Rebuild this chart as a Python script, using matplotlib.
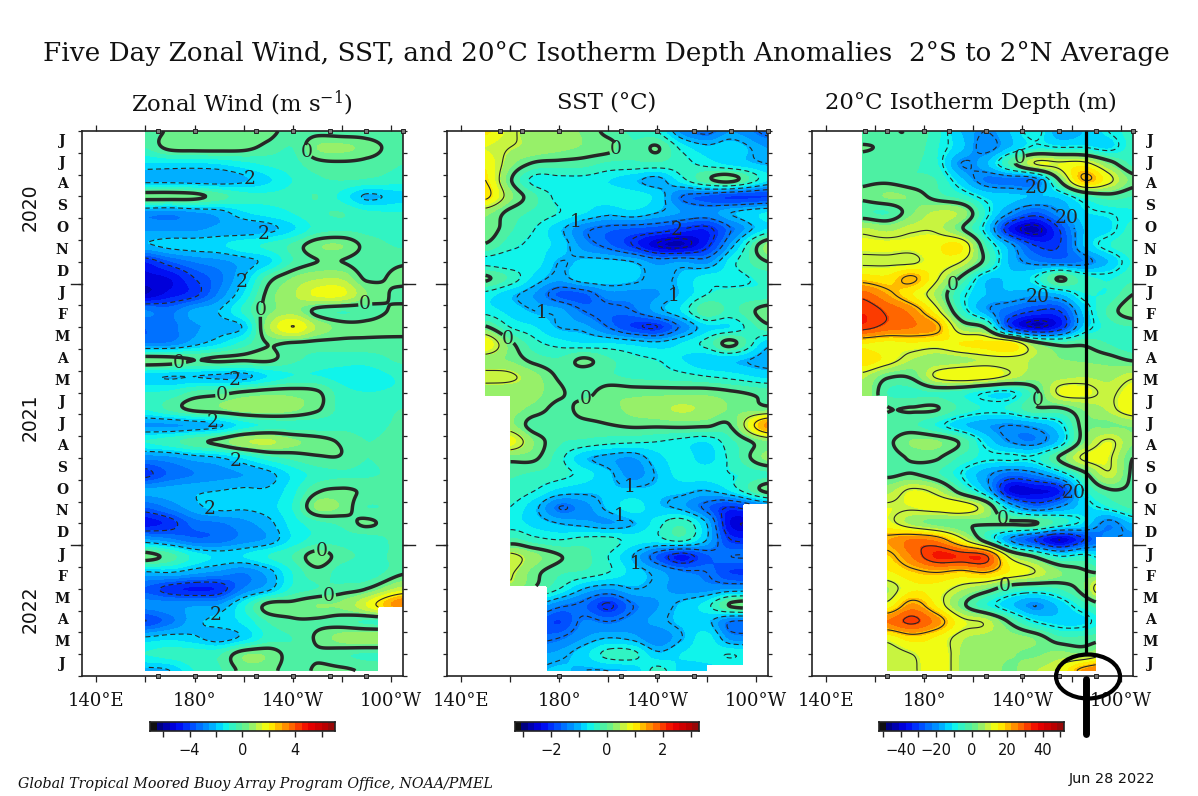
import numpy as np
import matplotlib
matplotlib.use("Agg")
import matplotlib.pyplot as plt
from matplotlib.colors import LinearSegmentedColormap, BoundaryNorm, ListedColormap
from matplotlib.patches import Ellipse

W, H = 1198, 796
plt.rcParams['font.family'] = ['DejaVu Serif']
plt.rcParams['mathtext.fontset'] = 'dejavuserif'

MONTH_LETTERS = list("JJASONDJFMAMJJASONDJFMAMJ")
YEARS = ["2020", "2021", "2022"]
ROW_MONTHS = [0.75 * i for i in range(34)]

WIND_LONS = [160, 170, 180, 190, 200, 210, 220, 230, 240, 250, 265]
WIND = [
[-0.3,0.1,0.3,0.3,0.3,0.2,-0.3,-0.2,-0.3,-0.3,-0.5],
[-0.5,0.2,0.3,0.3,0.2,-0.2,-0.5,0.5,0.6,0.3,-0.4],
[-1.6,-1.6,-1.6,-1.5,-1.2,-0.9,-0.7,-0.2,-0.1,-0.2,-0.5],
[-2.3,-2.3,-2.4,-2.4,-2.1,-1.6,-1.0,-0.6,-0.5,-0.6,-0.8],
[0.3,0.3,0.2,-0.3,-0.8,-0.9,-0.8,-0.5,-1.2,-2.1,-1.7],
[-2.8,-2.9,-2.6,-2.3,-1.6,-1.3,-1.0,-0.6,-0.5,-0.9,-1.0],
[-2.6,-2.6,-2.6,-2.4,-2.4,-2.2,-1.6,-0.8,-0.6,-0.7,-0.8],
[-2.1,-1.8,-1.7,-1.6,-1.2,-0.9,-0.4,0.4,0.5,-0.2,-0.6],
[-4.5,-3.6,-3.0,-2.7,-2.3,-1.7,-0.5,0.0,0.0,-0.3,-0.1],
[-5.2,-5.0,-4.0,-3.2,-2.0,-0.3,0.5,0.9,0.9,-0.1,0.2],
[-5.5,-4.8,-4.2,-2.9,-1.5,0.2,0.9,1.6,1.6,0.5,-0.2],
[-3.0,-3.2,-2.4,-2.0,-0.9,0.3,0.7,-0.2,-0.5,-0.3,0.2],
[-3.5,-3.2,-2.6,-2.3,-1.9,0.8,2.0,0.9,0.3,0.2,0.4],
[-3.0,-2.9,-2.2,-1.6,-0.8,0.02,-0.1,-0.2,-0.2,-0.2,-0.3],
[0.4,0.3,0.0,0.1,0.05,0.1,-0.4,-0.7,-0.8,-0.8,-0.4],
[-1.9,-2.0,-2.0,-2.1,-2.2,-1.5,-1.0,-1.0,-1.2,-1.3,-0.9],
[-1.0,-0.9,-0.4,-0.2,0.1,0.3,0.3,0.1,-0.8,-1.0,-0.9],
[-1.0,-0.4,0.2,0.4,0.7,0.8,0.6,0.1,-0.7,-0.8,-0.5],
[-2.6,-2.6,-2.4,-2.1,-1.3,-0.9,-0.8,-0.8,-0.7,-0.7,-0.4],
[-1.0,-0.7,-0.2,0.2,0.9,1.1,0.6,0.3,-0.1,-0.5,-0.3],
[-2.9,-2.7,-2.3,-2.05,-1.5,-0.8,-0.4,-0.1,-0.05,-0.5,-0.2],
[-4.2,-3.4,-3.0,-2.7,-2.5,-2.2,-1.4,-0.8,-0.6,-0.6,-0.3],
[-2.4,-2.3,-2.1,-2.0,-1.9,-1.9,-1.2,-0.1,0.1,-0.1,-0.2],
[-3.5,-2.9,-2.2,-1.8,-1.9,-1.7,-1.0,0.6,0.4,-0.5,-0.3],
[-4.8,-4.3,-3.3,-3.1,-2.7,-2.2,-1.3,-0.7,-0.4,0.1,-0.5],
[-2.5,-2.9,-3.4,-3.3,-2.8,-2.4,-1.4,-0.8,-0.7,-0.8,-0.3],
[0.3,-0.3,-1.2,-1.6,-1.5,-1.0,-0.5,0.3,-0.3,-0.6,-0.4],
[-2.1,-2.0,-2.4,-2.7,-3.0,-2.3,-1.0,-0.2,-0.8,-0.9,-0.1],
[-3.6,-4.3,-4.6,-4.4,-3.0,-2.2,-0.9,-0.5,-0.3,0.0,1.2],
[-2.8,-2.7,-2.6,-2.5,-1.2,0.2,0.2,0.5,0.6,1.5,3.5],
[-4.0,-3.2,-2.2,-1.8,-1.4,-0.5,-0.1,-0.1,-0.3,-0.6,-0.6],
[-1.9,-1.7,-1.9,-2.3,-1.8,-0.8,-0.5,0.1,0.7,0.9,0.9],
[-1.0,-0.8,-0.7,-0.6,0.4,0.4,-0.3,-0.1,-0.4,-0.6,-0.6],
[-2.2,-2.0,-1.0,-0.6,0.2,0.2,-0.3,0.1,0.1,-0.1,-0.3],
]

SST_LONS = [150, 160, 170, 180, 190, 200, 210, 220, 230, 240, 250, 265]
SST = [
[1.0,0.6,0.3,0.3,0.2,-0.1,-0.3,-0.5,-1.3,-1.6,-1.2,-1.6],
[0.7,0.5,0.4,0.3,0.2,0.1,-0.2,0.02,-0.6,-0.9,-0.8,-1.2],
[0.9,0.3,-0.05,-0.1,-0.15,-0.3,-0.3,-0.3,-0.4,-0.6,-0.8,-1.0],
[1.0,0.05,-0.6,-0.6,-0.6,-0.7,-0.9,-1.1,-0.6,-0.1,0.1,-0.7],
[1.1,0.3,-0.2,-0.6,-0.7,-0.6,-0.6,-0.8,-1.5,-1.7,-1.9,-1.9],
[0.3,-0.1,-0.3,-0.5,-0.7,-0.9,-0.8,-1.0,-1.2,-1.3,-1.0,-0.7],
[0.2,-0.2,-0.5,-0.9,-1.4,-1.6,-1.7,-1.8,-2.0,-2.1,-1.5,-0.7],
[-0.05,-0.4,-0.6,-0.8,-1.3,-1.6,-2.0,-2.5,-2.6,-2.1,-1.1,0.3],
[-0.6,-0.7,-0.6,-1.0,-0.9,-0.9,-1.0,-1.3,-1.2,-1.3,-0.6,0.0],
[0.05,-0.3,-0.8,-1.1,-0.8,-0.8,-0.9,-1.1,-0.9,-0.6,-0.6,-0.4],
[-0.6,-0.9,-1.2,-1.7,-1.7,-1.3,-1.3,-1.2,-0.9,-0.5,-0.4,-0.4],
[-0.6,-0.8,-1.0,-1.1,-1.5,-1.6,-1.5,-1.1,-0.7,-0.05,-0.3,0.15],
[0.05,-0.5,-0.7,-1.0,-1.1,-1.5,-1.9,-2.0,-1.4,-0.8,-0.7,-0.1],
[0.9,0.1,-0.4,-0.6,-0.7,-0.7,-0.8,-0.9,-0.7,-0.4,0.08,-0.9],
[0.3,0.2,-0.1,-0.2,0.05,-0.2,-0.4,-0.5,-0.7,-0.9,-0.9,-1.1],
[0.6,0.55,0.3,-0.05,-0.2,-0.2,-0.3,-0.35,-0.4,-0.5,-0.6,-0.8],
[0.3,0.3,0.3,0.05,-0.1,0.15,0.15,0.15,0.15,0.15,0.05,-0.1],
[0.3,0.3,0.15,-0.1,0.1,0.15,0.3,0.4,0.5,0.4,0.2,0.1],
[0.3,0.3,-0.15,-0.15,-0.1,-0.02,0.05,0.05,0.08,0.05,0.03,1.5],
[0.8,0.8,0.2,-0.2,-0.3,-0.4,-0.45,-0.5,-0.6,-0.7,-0.3,0.2],
[0.1,0.1,0.05,-0.4,-0.9,-1.1,-1.2,-0.8,-0.6,-0.8,-0.4,0.3],
[-0.2,-0.2,-0.3,-0.4,-0.6,-0.9,-1.3,-0.95,-0.6,-0.6,-0.5,-0.3],
[-0.3,-0.3,-0.5,-0.8,-0.9,-0.9,-0.9,-0.9,-0.9,-1.0,-0.7,0.1],
[-0.5,-0.5,-0.9,-1.5,-1.3,-0.9,-0.6,-0.9,-1.1,-1.6,-2.0,-1.5],
[-0.7,-0.6,-0.8,-1.0,-1.1,-1.2,-1.0,-0.6,-0.3,-1.0,-2.4,-2.4],
[-0.7,-0.2,-0.4,-0.5,-0.4,-0.4,-0.6,-0.6,-0.4,-1.0,-2.0,-2.0],
[0.6,0.6,0.3,0.02,-0.15,-0.5,-1.0,-1.7,-2.2,-1.7,-1.5,-1.5],
[0.6,0.55,0.1,-0.2,-0.3,-0.5,-0.8,-1.1,-1.4,-1.5,-1.9,-1.9],
[0.4,0.3,-0.05,-0.5,-1.0,-1.2,-1.0,-1.1,-1.3,-1.3,-1.2,-1.2],
[-1,-1,-1,-1.4,-1.6,-2.05,-1.5,-1.2,-0.9,-0.6,0.05,0.2],
[-1.5,-1.5,-1.6,-1.9,-1.4,-1.5,-1.3,-1.1,-0.9,-0.9,-1.5,-1.5],
[-1.6,-1.6,-1.6,-1.5,-1.2,-1.0,-1.1,-1.4,-1.0,-0.6,-1.3,-1.3],
[-1.2,-1.2,-1.2,-1.1,-0.8,-0.4,-0.4,-0.9,-0.7,-0.6,-0.5,-0.7],
[-1,-1,-1,-0.9,-1.0,-1.0,-0.9,-0.4,-0.8,-0.8,-0.8,-0.8],
]

DEPTH_LONS = [155, 165, 175, 185, 195, 205, 215, 225, 235, 245, 255, 265]
DEPTH = [
[-3,-0.5,-0.5,-6,-15,-20,-15,-8,-18,-15,-10,-6],
[0.3,-0.5,-1,-7,-14,-22,-15,-9,-10,-10,-12,-6],
[-2,-2,-3,-7,-20,-16,-3,10,11,12,3,-5],
[-1,-1,-3,-4,-14,-23,-24,-23,0,20,12,2],
[1,4,3,-2,-6,-12,-14,-15,-14,-6,-2,-4],
[-3,-4,3,8,6,-8,-20,-27,-20,-12,-10,-8],
[8,6,9,9,1,-12,-35,-42,-30,-15,-12,-6],
[12,12,12,14,15,-4,-18,-30,-30,-15,-8,-5],
[9,9,9,13,10,-2,-16,-22,-24,-22,-15,-7],
[17,16,21,11,-1,-14,-14,-10,0.5,-6,-8,-5],
[28,22,15,6,-8,-15,-16,-18,-16,-8,-7,0],
[33,29,24,12,-6,-18,-25,-30,-30,-14,-3,3],
[32,28,26,22,5,-1,-30,-40,-34,-14,-6,-4],
[15,13,14,13,15,16,16,3,-2,-1,-4,-7],
[18,13,7,5,6,8,8,7,4,3,2,-0.5],
[8,1,1,11,14,13,9,5,6,7,6,9],
[7,-4,-5,-4,-6,-10,-11,-2,11,12,9,13],
[5,0.3,0.3,0.3,-5,-8,-7,-1,-1,4,8,14],
[-3,-3,-3,-8,-14,-18,-20,-18,-12,2,3,4],
[-1,-1,4,4,-1,-12,-20,-22,-14,3,11,4],
[-3,-2,0.5,0.5,-5,-9,-9,-9,0.5,11,11,0],
[1,-1,0.3,-3,-10,-18,-25,-22,-14,-2,9,-1],
[6,6,11,8,-3,-15,-38,-38,-34,-10,-1,-1],
[11,11,11,13,14,6,-15,-25,-20,-13,-8,-3],
[12,12,6,2,0.5,0.5,0.5,0.5,-6,-12,-22,-15],
[22,22,26,24,12,-3,-20,-30,-40,-30,-20,-20],
[18,18,26,34,33,31,8,-1,-10,-8,-14,-14],
[14,14,18,20,18,20,14,10,4,1,-1,-1],
[7,7,14,13,8,3,-4,-6,-4,3,20,20],
[12,12,23,14,2,-7,-14,-20,-14,-6,0,0],
[26,26,31,24,12,9,-1,-10,-13,-12,-5,-5],
[12,12,17,14,8,6,5,3,-3,-3,-1,-1],
[8,8,10,14,7,5,4,3,5,4,10,10],
[8,8,9,14,7,6,3,7,11,23,27,27],
]

# buoy longitudes marked along the top and bottom frame
BUOY_TOP = [[165,180,205,220,235,250,265], [156,165,180,205,220,235,250,265], [156,165,180,190,205,220,235,250,265]]
BUOY_BOTTOM = [[165,180,190,205,220,235,250], [180,205,220,235], [165,180,190,205,220,235,250]]

# colour ramp, given in wind units
RAMP_V = [-6.5,-5.5,-5,-4,-3,-2,-1.5,-1,-0.5,0,0.5,1,1.5,2,3,4,5,6.5]
RAMP_C = ['#000070','#0000c8','#0000f0','#0040ff','#0080ff','#00c0ff','#00f0ff','#20f8d8','#40f0b0','#58f098',
          '#80f078','#b0f058','#e0f828','#ffff00','#ffa800','#ff5000','#f00000','#b00000']
t = [(v + 6.5) / 13 for v in RAMP_V]
RAMP = LinearSegmentedColormap.from_list('ramp', list(zip(t, RAMP_C)))
LEVELS_W = np.arange(-6.5, 6.51, 0.5)
COLORS = [RAMP((i + 0.5) / 26) for i in range(26)]
CMAP = ListedColormap(COLORS)
CMAP.set_under('#101010')
CMAP.set_over('#980808')


def panel_data(name):
    return {'wind': (WIND_LONS, WIND), 'sst': (SST_LONS, SST), 'depth': (DEPTH_LONS, DEPTH)}[name]


def catmull(z, t, axis):
    z = np.moveaxis(z, axis, 0)
    n = z.shape[0]
    i = np.clip(np.floor(t).astype(int), 0, n - 2)
    f = (t - i).reshape((-1,) + (1,) * (z.ndim - 1))
    p0, p1, p2, p3 = z[np.clip(i - 1, 0, n - 1)], z[i], z[i + 1], z[np.clip(i + 2, 0, n - 1)]
    out = 0.5 * (2 * p1 + (p2 - p0) * f + (2 * p0 - 5 * p1 + 4 * p2 - p3) * f ** 2 + (3 * p1 - p0 - 3 * p2 + p3) * f ** 3)
    return np.moveaxis(out, 0, axis)


PANELS = [
    dict(name='wind', x0=82, x1=403, lon140=96.3, scale=1.0, title='Zonal Wind (m s$^{-1}$)', cx=242,
         neg=[-6, -4, -2], pos=[2, 4, 6], bar=(150, 334.7), ticks=[-6,-4,-2,0,2,4,6], labels=[-4,0,4],
         blocks=[(0, 160, 0, 30), (254.8, 300, 21.83, 30), (0, 300, 24.8, 30)],
         lab0=[(303,154),(256.7,309),(365,301.7),(180,370),(222.7,397.7),(321.7,546.7),(329,596)],
         labn={-2: [(260,172.7),(264,237),(239,281),(235,382),(212.7,420),(235.7,462.7),(210.7,505.7),(215,613)]}),
    dict(name='sst', x0=446.7, x1=767.7, lon140=461, scale=3.29/7, title='SST (°C)', cx=607,
         neg=[-2.5,-2,-1.5,-1,-0.5], pos=[0.5,1,1.5,2,2.5,3], bar=(514.7, 699), ticks=[-3,-2,-1,0,1,2,3], labels=[-2,0,2],
         blocks=[(0, 150, 0, 30), (0, 160, 12.15, 30), (0, 175, 20.87, 30), (255, 300, 17.1, 30), (240, 300, 24.5, 30), (0, 300, 24.8, 30)],
         lab0=[(624.3,154.3),(511.7,334),(585,397.7)],
         labn={-1: [(573.3,216.7),(540,326.7),(678,299),(629,494),(620,515.7),(636.7,563)], -2: [(677,231)]}),
    dict(name='depth', x0=811.7, x1=1132.7, lon140=826, scale=52/7, title='20°C Isotherm Depth (m)', cx=971,
         neg=[-50,-40,-30,-20,-10], pos=[10,20,30,40,50], bar=(879.3, 1064), ticks=list(range(-50,51,10)), labels=[-40,-20,0,20,40],
         blocks=[(0, 155, 0, 30), (0, 165, 12.15, 30), (250, 300, 18.6, 30), (0, 300, 24.8, 30)],
         lab0=[(1018,156),(953,285),(1041.7,402),(1001.7,520.7),(1005,587)],
         labn={-20: [(1036,186),(1066,218),(1038,306),(1071.7,493)]}),
]

TOP, BOTTOM = 131, 676
LW0, LWT = 2.5, 0.8
LINE = '#262626'
fig = plt.figure(figsize=(W / 100, H / 100), dpi=100, facecolor='white')


def px_axes(x0, y0, x1, y1, **kw):
    return fig.add_axes([x0 / W, 1 - y1 / H, (x1 - x0) / W, (y1 - y0) / H], **kw)


fmt = lambda v: f"{abs(v):g}"


def level_labels(cs, pts):
    cs.clabel(manual=pts, fmt=fmt, fontsize=13.5, inline=True, inline_spacing=1)
    for txt in cs.labelTexts:
        txt.set_rotation(0)


for k, p in enumerate(PANELS):
    ax = px_axes(p['x0'], TOP, p['x1'], BOTTOM)
    per_lon = 49.1 / 20
    lon_l = 140 + (p['x0'] - p['lon140']) / per_lon
    lon_r = 140 + (p['x1'] - p['lon140']) / per_lon
    ax.set_xlim(lon_l, lon_r)
    ax.set_ylim(25, 0)
    to_data = lambda q: (140 + (q[0] - p['lon140']) / per_lon, (q[1] - TOP) / 21.8)

    lons, vals = panel_data(p['name'])
    z = np.array(vals, float)
    fx = np.linspace(lons[0], lons[-1], 430)
    fy = np.linspace(0, ROW_MONTHS[-1] + 0.05, 600)
    ti = np.interp(fy, ROW_MONTHS, np.arange(len(ROW_MONTHS)))
    tj = np.interp(fx, lons, np.arange(len(lons)))
    Z = catmull(catmull(z, ti, 0), tj, 1)
    X, Y = np.meshgrid(fx, fy)
    mask = np.zeros_like(Z, bool)
    for a, b, c, d in p['blocks']:
        mask |= (X >= a) & (X < b) & (Y >= c) & (Y < d)
    Zm = np.ma.array(Z, mask=mask)
    lev = LEVELS_W * p['scale']
    norm = BoundaryNorm(lev, 26)
    ax.contourf(X, Y, Zm, levels=lev, cmap=CMAP, norm=norm, extend='both')
    for lv in p['neg']:
        c = ax.contour(X, Y, Zm, levels=[lv], colors=LINE, linewidths=LWT, linestyles=[(0, (4.5, 3))])
        if lv in p['labn']:
            level_labels(c, [to_data(q) for q in p['labn'][lv]])
    cz = ax.contour(X, Y, Zm, levels=[0], colors=LINE, linewidths=LW0, linestyles='solid')
    level_labels(cz, [to_data(q) for q in p['lab0']])
    ax.contour(X, Y, Zm, levels=p['pos'], colors=LINE, linewidths=LWT, linestyles='solid')

    # frame and ticks
    for s in ax.spines.values():
        s.set_color('#222222')
        s.set_linewidth(1.2)
    ax.set_xticks(np.arange(140, 261, 20))
    ax.set_xticklabels([])
    ax.tick_params(axis='x', which='major', top=True, bottom=True, length=4, width=0.9, color='#222222', direction='out')
    ax.set_yticks(np.arange(0, 26))
    ax.set_yticklabels([])
    ax.tick_params(axis='y', which='major', left=True, right=True, length=2.6, width=0.9, color='#222222', direction='out')
    for m in (7, 19):
        ax.plot([0, -0.034], [m, m], transform=ax.get_yaxis_transform(), color='#222222', lw=1, clip_on=False)
        ax.plot([1, 1.037], [m, m], transform=ax.get_yaxis_transform(), color='#222222', lw=1, clip_on=False)
    ax.plot(BUOY_TOP[k], [0] * len(BUOY_TOP[k]), ls='', marker='s', ms=3.2, mfc='#777777', mec='#222222', mew=0.7, clip_on=False, zorder=6)
    ax.plot(BUOY_BOTTOM[k], [25] * len(BUOY_BOTTOM[k]), ls='', marker='s', ms=3.2, mfc='#777777', mec='#222222', mew=0.7, clip_on=False, zorder=6)

    for lon, lab in [(140, '140°E'), (180, '180°'), (220, '140°W'), (260, '100°W')]:
        fig.text((p['lon140'] + (lon - 140) * per_lon) / W, 1 - 701 / H, lab, ha='center', va='center', fontsize=13, color='#111111')
    fig.text(p['cx'] / W, 1 - 103 / H, p['title'], ha='center', va='center', fontsize=16.4, color='#111111')

    # colour bar
    b0, b1 = p['bar']
    cax = px_axes(b0, 722, b1, 731)
    full = 7 * p['scale']
    edges = np.concatenate([[-full], lev, [full]])
    cax.pcolormesh(edges, [0, 1], np.array([(edges[:-1] + edges[1:]) / 2]), cmap=CMAP, norm=norm)
    cax.set_xlim(-full, full)
    cax.set_yticks([])
    cax.set_xticks(p['ticks'])
    cax.set_xticklabels([(f"\u2212{abs(v)}" if v < 0 else str(v)) if v in p['labels'] else '' for v in p['ticks']],
                        family='DejaVu Sans', fontsize=10.5, color='#111111')
    cax.tick_params(axis='x', length=4.5, width=1, color='#222222', pad=4)
    for s in cax.spines.values():
        s.set_color('#222222')
        s.set_linewidth(1.2)

    if k in (0, 2):
        mx = 62 if k == 0 else 1150
        for i, letter in enumerate(MONTH_LETTERS):
            fig.text(mx / W, 1 - (TOP + (i + 0.45) * 21.8) / H, letter, ha='center', va='center', fontsize=10, fontweight='bold', color='#111111')

for yr, yy in zip(YEARS, [207, 417, 609]):
    fig.text(30 / W, 1 - yy / H, yr, rotation=90, ha='center', va='center', family='DejaVu Sans', fontsize=13.5, color='#111111')

fig.text(606.5 / W, 1 - 53 / H, "Five Day Zonal Wind, SST, and 20°C Isotherm Depth Anomalies  2°S to 2°N Average",
         ha='center', va='center', fontsize=18.9, color='#111111')
fig.text(18 / W, 1 - 784 / H, "Global Tropical Moored Buoy Array Program Office, NOAA/PMEL", ha='left', va='center',
         fontsize=10.3, style='italic', color='#111111')
fig.text(1112 / W, 1 - 779 / H, "Jun 28 2022", ha='center', va='center', family='DejaVu Sans', fontsize=10.4, color='#111111')

# hand-drawn black annotation on the right-hand panel
ov = fig.add_axes([0, 0, 1, 1], facecolor='none', zorder=20)
ov.set_xlim(0, W)
ov.set_ylim(H, 0)
ov.axis('off')
ov.plot([1085.7, 1085.7], [131, 653], color='black', lw=2.3, solid_capstyle='butt')
ov.plot([1085.7, 1085.7], [679, 734], color='black', lw=5, solid_capstyle='round')
ov.add_patch(Ellipse((1088, 676.5), 64, 44, fill=False, ec='black', lw=3))

fig.savefig('out.png', dpi=100, facecolor='white')
